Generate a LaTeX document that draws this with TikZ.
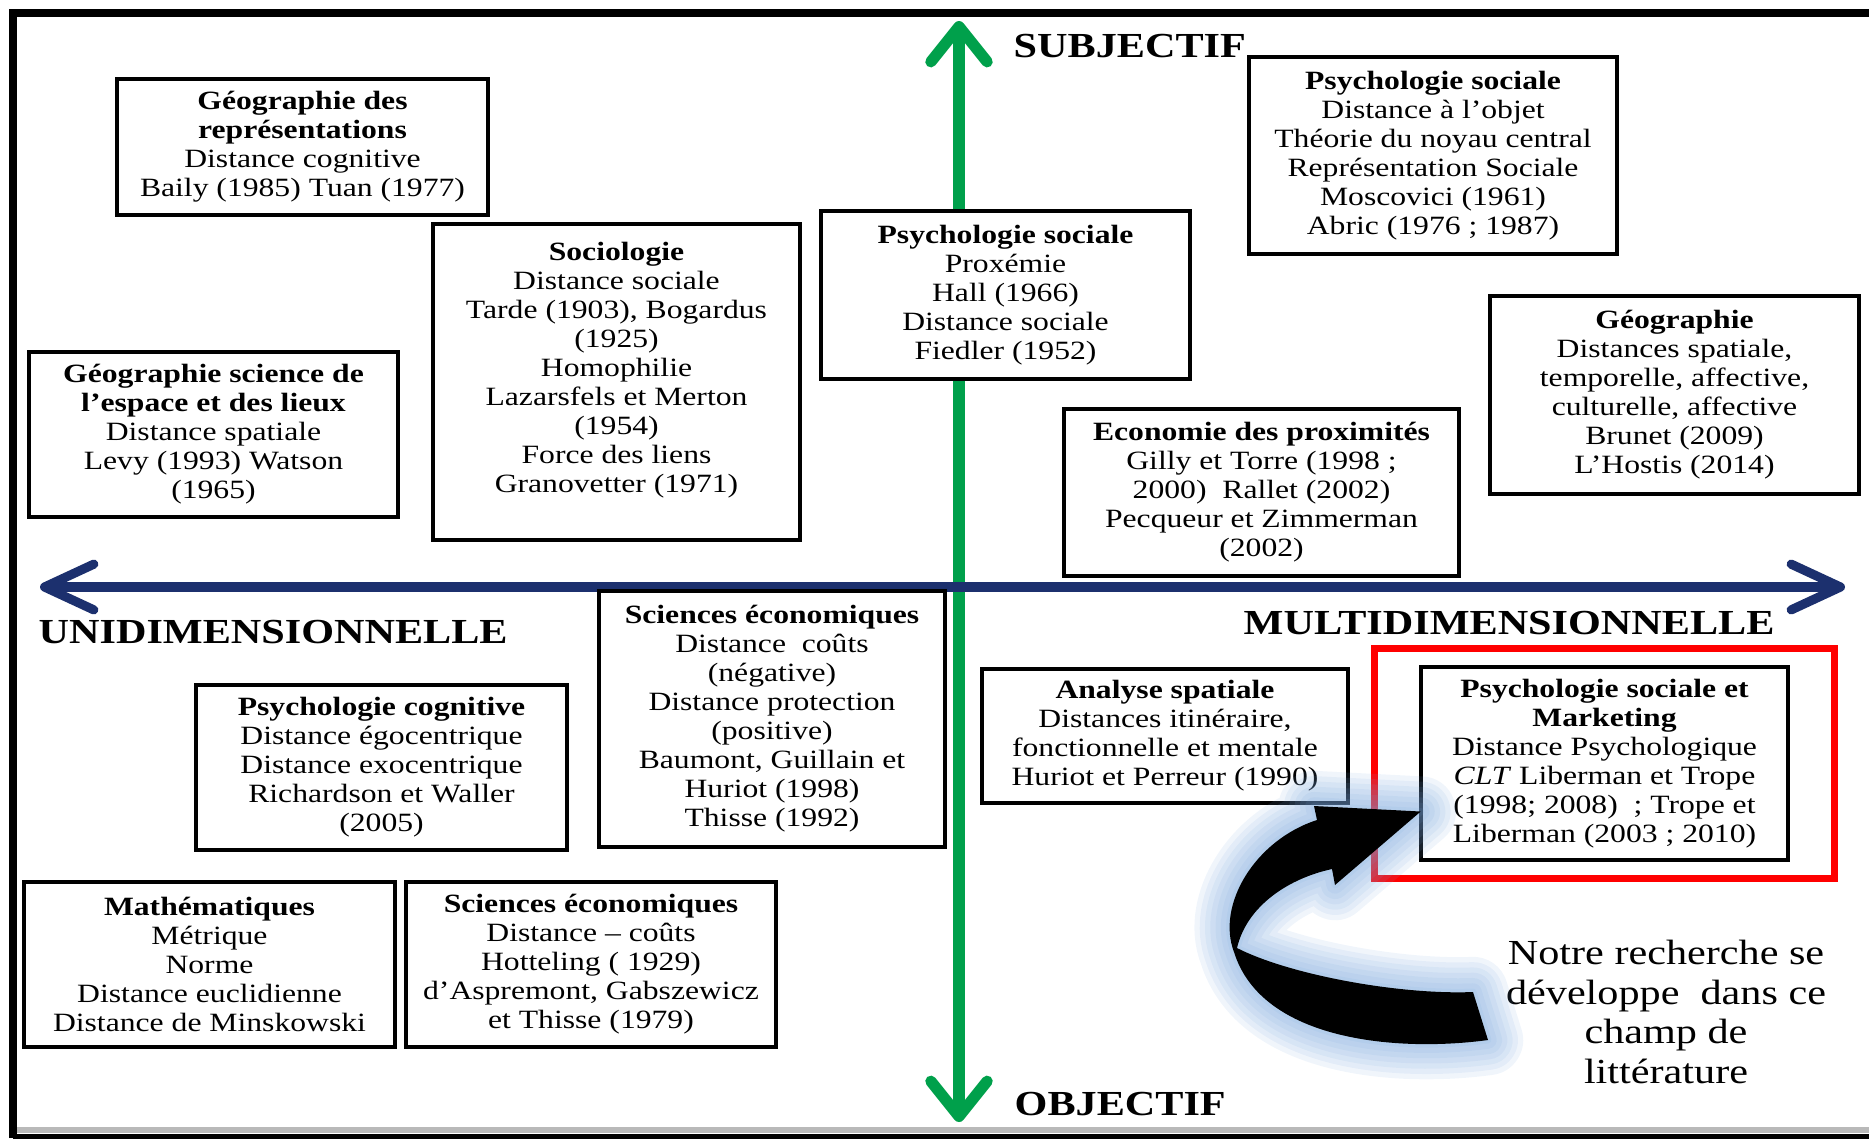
\documentclass[tikz,border=0pt]{standalone}
\usepackage{fontspec}
\setmainfont{Liberation Serif}[FakeStretch=1.2]
\usetikzlibrary{arrows.meta,calc,fit}
\definecolor{axisgreen}{RGB}{0,160,75}
\definecolor{axisblue}{RGB}{28,48,110}
\definecolor{glowblue}{RGB}{120,165,220}

\begin{document}
\begin{tikzpicture}[x=0.01cm, y=-0.01cm,
    box/.style={draw, line width=1.25pt, fill=white, align=center, inner sep=1pt,
      font=\fontsize{7.5}{8.25}\selectfont},
    axislabel/.style={inner sep=0pt, anchor=base west, font=\bfseries\fontsize{10}{12}\selectfont},
    greenaxis/.style={axisgreen, line width=3.2pt,
      {Straight Barb[round, length=10pt, width=16pt]}-{Straight Barb[round, length=10pt, width=16pt]}},
    blueaxis/.style={axisblue, line width=2.6pt,
      {Straight Barb[round, length=14pt, width=13pt]}-{Straight Barb[round, length=14pt, width=13pt]}},
    redframe/.style={draw=red, line width=2.1pt, inner xsep=0.44cm, inner ysep=0.16cm},
    glowline/.style={glowblue, opacity=0.11, line join=round},
  ]
\useasboundingbox (0,0) rectangle (1869,1138);
%\draw[step=100,very thin,gray] (0,0) grid (1869,1138);

% frame
\draw[gray!55, line width=1.6pt] (17,1130) -- (1869,1130);
\draw[line width=2.3pt] (13,1138) -- (13,13) -- (1890,13);
\draw[line width=2.3pt] (13,1138) -- (1890,1138);

% axes
\coordinate (subjtip) at (959,21);
\coordinate (objtip) at (959,1122);
\coordinate (unitip) at (40,587);
\coordinate (multitip) at (1845,587);
\draw[greenaxis] (objtip) -- (subjtip);
\draw[blueaxis] (unitip) -- (multitip);

\node[axislabel] (subj) at (1013,57) {SUBJECTIF};
\node[axislabel] (obj) at (1014,1115) {OBJECTIF};
\node[axislabel] (uni) at (38,643) {UNIDIMENSIONNELLE};
\node[axislabel] (multi) at (1243,634) {MULTIDIMENSIONNELLE};

% boxes
\node[box, minimum width=3.71cm, minimum height=1.36cm] (georep) at (302.5,147)
  {\textbf{Géographie des}\\ \textbf{représentations}\\ Distance cognitive\\ Baily (1985) Tuan (1977)};
\node[box, minimum width=3.67cm, minimum height=3.16cm] (socio) at (616.5,382)
  {\textbf{Sociologie}\\ Distance sociale\\ Tarde (1903), Bogardus\\ (1925)\\ Homophilie\\
   Lazarsfels et Merton\\ (1954)\\ Force des liens\\ Granovetter (1971)\\ \mbox{}};
\node[box, minimum width=3.69cm, minimum height=1.65cm] (geosci) at (213.5,434.5)
  {\textbf{Géographie science de}\\ \textbf{l’espace et des lieux}\\ Distance spatiale\\ Levy (1993) Watson\\ (1965)};
\node[box, minimum width=3.69cm, minimum height=1.68cm] (proxemie) at (1005.5,295)
  {\textbf{Psychologie sociale}\\ Proxémie\\ Hall (1966)\\ Distance sociale\\ Fiedler (1952)};
\node[box, minimum width=3.68cm, minimum height=1.97cm] (objet) at (1433,155.5)
  {\textbf{Psychologie sociale}\\ Distance à l’objet\\ Théorie du noyau central\\ Représentation Sociale\\
   Moscovici (1961)\\ Abric (1976 ; 1987)};
\node[box, minimum width=3.69cm, minimum height=1.98cm] (georight) at (1674.5,395)
  {\textbf{Géographie}\\ Distances spatiale,\\ temporelle, affective,\\ culturelle, affective\\
   Brunet (2009)\\ L’Hostis (2014)};
\node[box, minimum width=3.95cm, minimum height=1.67cm] (ecoprox) at (1261.5,492.5)
  {\textbf{Economie des proximités}\\ Gilly et Torre (1998 ;\\ 2000)~~Rallet (2002)\\
   Pecqueur et Zimmerman\\ (2002)};
\node[box, minimum width=3.46cm, minimum height=2.56cm] (scieco) at (772,719)
  {\textbf{Sciences économiques}\\ Distance~~coûts\\ (négative)\\ Distance protection\\ (positive)\\
   Baumont, Guillain et\\ Huriot (1998)\\ Thisse (1992)};
\node[box, minimum width=3.71cm, minimum height=1.65cm] (psycog) at (381.5,767.5)
  {\textbf{Psychologie cognitive}\\ Distance égocentrique\\ Distance exocentrique\\
   Richardson et Waller\\ (2005)};
\node[box, minimum width=3.71cm, minimum height=1.65cm] (math) at (209.5,964.5)
  {\textbf{Mathématiques}\\ Métrique\\ Norme\\ Distance euclidienne\\ Distance de Minskowski};
\node[box, minimum width=3.70cm, minimum height=1.65cm] (sciecob) at (591,964.5)
  {\textbf{Sciences économiques}\\ Distance – coûts\\ Hotteling ( 1929)\\
   d’Aspremont, Gabszewicz\\ et Thisse (1979)};
\node[box, minimum width=3.66cm, minimum height=1.34cm] (analyse) at (1165,736)
  {\textbf{Analyse spatiale}\\ Distances itinéraire,\\ fonctionnelle et mentale\\ Huriot et Perreur (1990)};
\node[box, minimum width=3.67cm, minimum height=1.93cm] (marketing) at (1604.5,763.5)
  {\textbf{Psychologie sociale et}\\ \textbf{Marketing}\\ Distance Psychologique\\
   \textit{CLT} Liberman et Trope\\ (1998; 2008)~ ; Trope et\\ Liberman (2003 ; 2010)};
\node[redframe, fit=(marketing)] (ourfield) {};

\node[align=center, font=\fontsize{10}{11.3}\selectfont] (notre) at (1666,1012)
  {Notre recherche se\\ développe~ dans ce\\ champ de\\ littérature};

% curved arrow
\coordinate (tip) at ($(marketing.west)+(2,48)$);
\path[save path=\bigarrow] (tip) -- (1335,885) -- (1332,869)
  .. controls (1290,878) and (1247,905) .. (1237,948)
  .. controls (1290,975) and (1400,995) .. (1473,992)
  -- (1488,1040)
  .. controls (1400,1052) and (1262,1042) .. (1234,952)
  .. controls (1216,905) and (1255,840) .. (1317,820)
  -- (1314,806) -- cycle;
\foreach \w in {20,17,14,11,8,5,2}
  \draw[glowline, line width=\w pt, use path=\bigarrow];
\fill[black, use path=\bigarrow];
\end{tikzpicture}
\end{document}
